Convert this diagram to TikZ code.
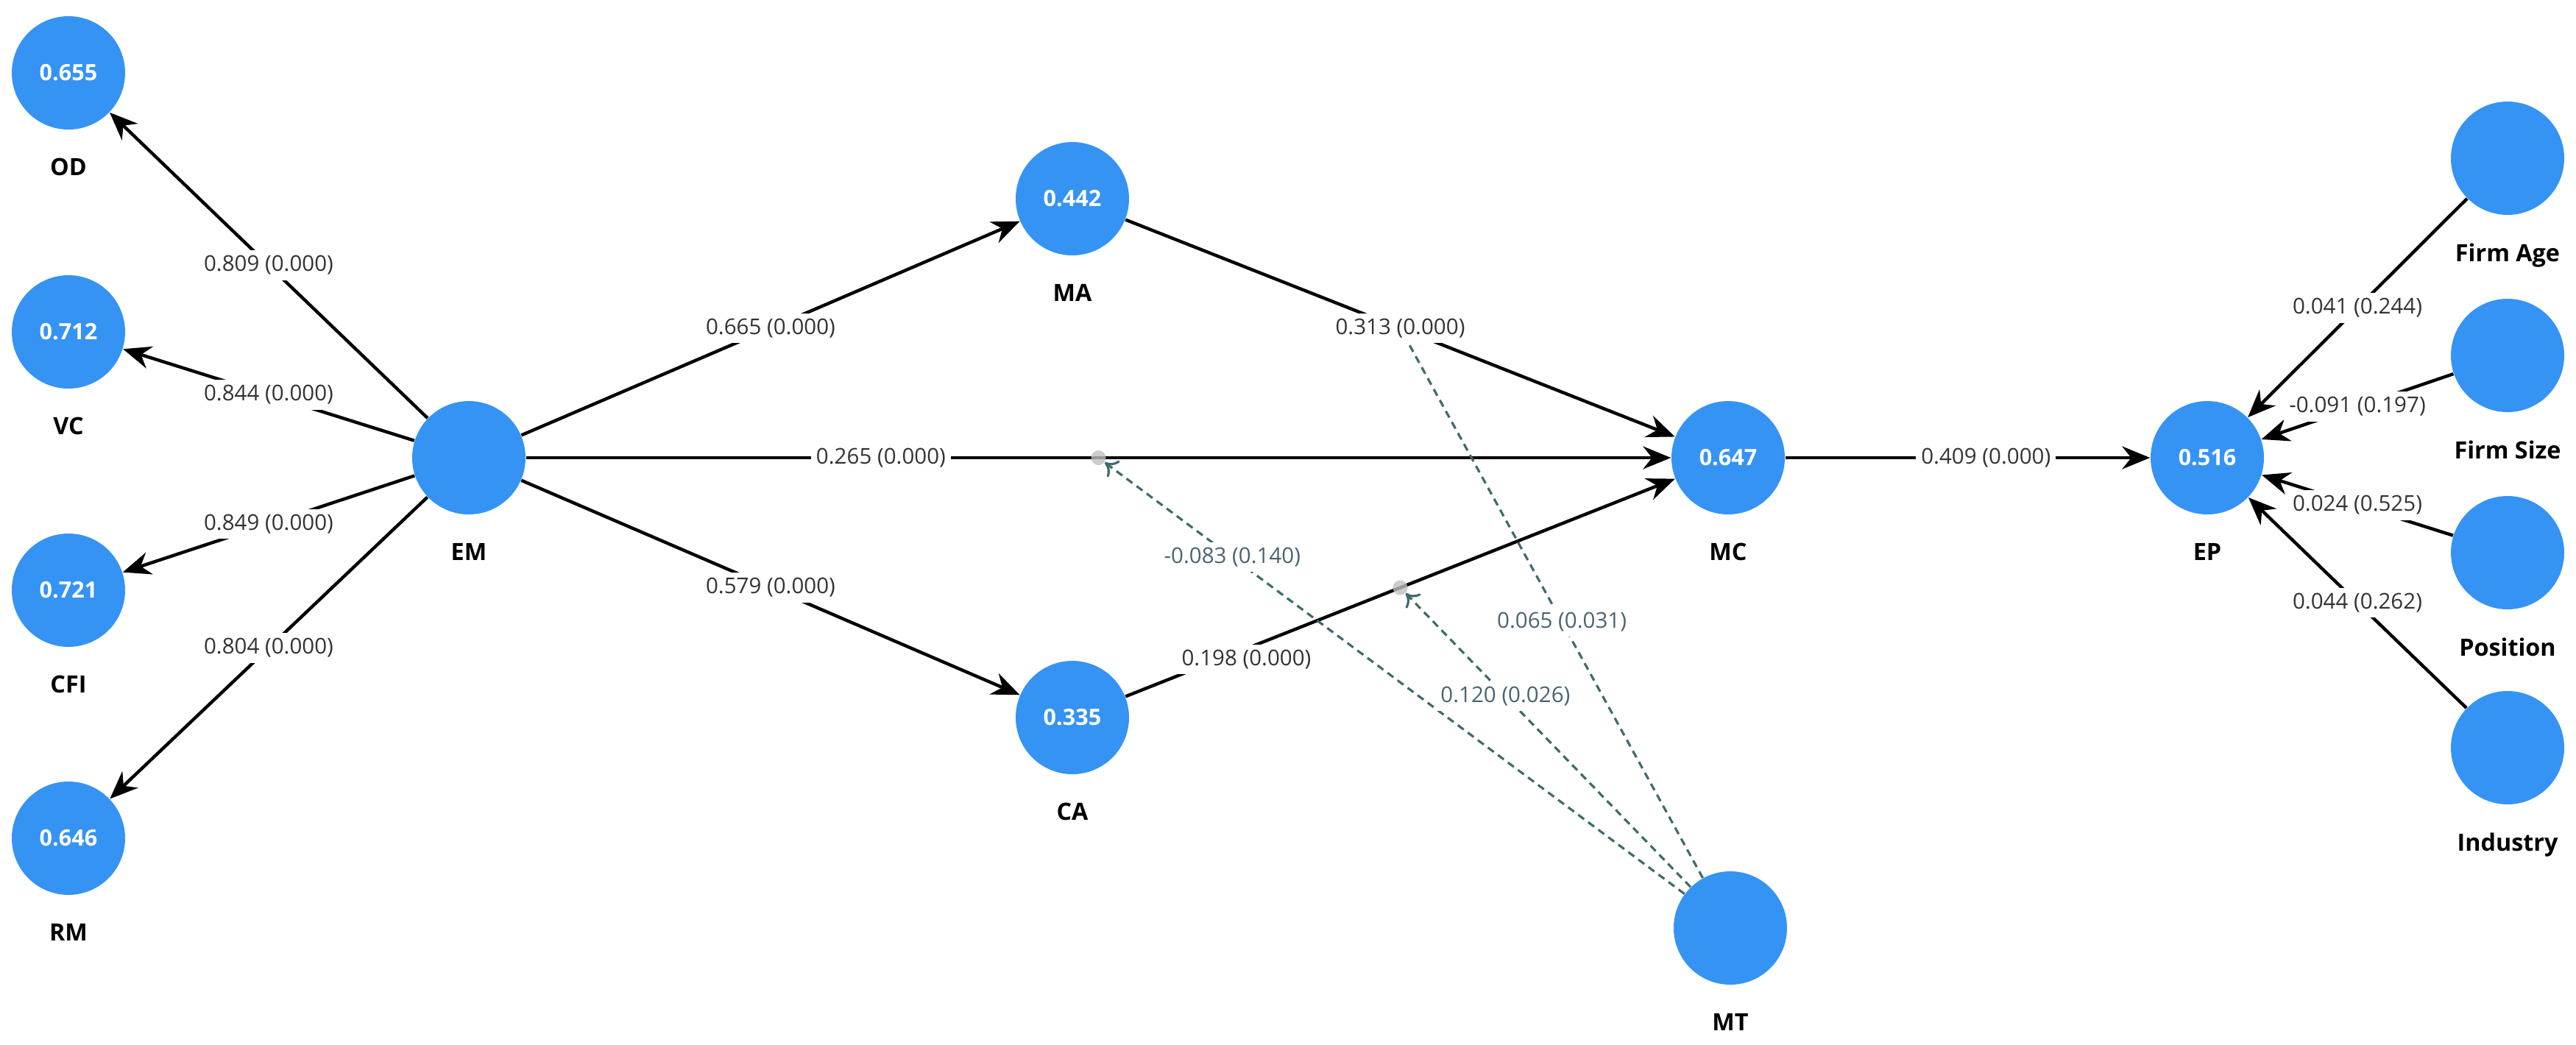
\documentclass[tikz,border=0pt]{standalone}
\usepackage{fontspec}
\setmainfont{Open Sans}
\usetikzlibrary{positioning,arrows.meta,calc}
\definecolor{nodeblue}{HTML}{3593F4}
\definecolor{modteal}{HTML}{3E6B6B}
\definecolor{modtext}{HTML}{4A6470}
\definecolor{coefgray}{HTML}{333333}

\begin{document}
\begin{tikzpicture}[
latent/.style ={circle, fill=nodeblue, minimum size=1.54cm, inner sep=0pt,
  text=white, font=\fontsize{8.7}{10}\selectfont\bfseries
},
varname/.style ={inner sep=0pt, font=\fontsize{9.2}{11}\selectfont\bfseries},
link/.style ={line width=1.25pt, -{Stealth[length=3.8mm,width=3.1mm]}},
modlink/.style ={modteal, line width=0.9pt, dash pattern=on 1mm off 0.7mm,
  -{To[length=1.6mm,width=2.8mm]}
},
coef/.style ={fill=white, inner sep=2pt, text=coefgray,
  font=\fontsize{8.4}{10}\selectfont
},
modcoef/.style ={coef, text=modtext},
hub/.style ={circle, fill=gray!50, opacity=0.8, minimum size=0.2cm, inner sep=0pt}
]
\useasboundingbox (0,0) rectangle (35,-14.19);

% indicators of EM
\node (od) at (0.93,-0.99) [latent] {0.655};
\node (vc) at (0.93,-4.51) [latent] {0.712};
\node (cfi) at (0.93,-8.02) [latent] {0.721};
\node (rm) at (0.93,-11.39) [latent] {0.646};

% structural model
\node (em) at (6.37,-6.22) [latent] {};
\node (ma) at (14.57,-2.70) [latent] {0.442};
\node (ca) at (14.57,-9.75) [latent] {0.335};
\node (mc) at (23.48,-6.22) [latent] {0.647};
\node (mt) at (23.51,-12.61) [latent] {};
\node (ep) at (29.99,-6.22) [latent] {0.516};

% controls
\node (age) at (34.07,-2.15) [latent] {};
\node (size) at (34.07,-4.83) [latent] {};
\node (pos) at (34.07,-7.51) [latent] {};
\node (ind) at (34.07,-10.16) [latent] {};

% names
\node (odN) [varname, below=3.8mm of od] {OD};
\node (vcN) [varname, below=3.8mm of vc] {VC};
\node (cfiN) [varname, below=3.8mm of cfi] {CFI};
\node (rmN) [varname, below=3.8mm of rm] {RM};
\node (emN) [varname, below=3.8mm of em] {EM};
\node (maN) [varname, below=3.8mm of ma] {MA};
\node (caN) [varname, below=3.8mm of ca] {CA};
\node (mcN) [varname, below=3.8mm of mc] {MC};
\node (mtN) [varname, below=3.8mm of mt] {MT};
\node (epN) [varname, below=3.8mm of ep] {EP};
\node (ageN) [varname, below=3.8mm of age] {Firm Age};
\node (sizeN) [varname, below=3.8mm of size] {Firm Size};
\node (posN) [varname, below=3.8mm of pos] {Position};
\node (indN) [varname, below=3.8mm of ind] {Industry};

% loadings
\draw[link] (em) -- (od) node[coef, pos=0.5] {0.809 (0.000)};
\draw[link] (em) -- (vc) node[coef, pos=0.5] {0.844 (0.000)};
\draw[link] (em) -- (cfi) node[coef, pos=0.5] {0.849 (0.000)};
\draw[link] (em) -- (rm) node[coef, pos=0.5] {0.804 (0.000)};

% paths
\draw[link] (em) -- (ma) node[coef, pos=0.5] {0.665 (0.000)};
\draw[link] (em) -- (ca) node[coef, pos=0.5] {0.579 (0.000)};
\draw[link] (em) -- (mc) node[coef, pos=0.31] {0.265 (0.000)};
\draw[link] (ma) -- (mc) node[coef, pos=0.5] (c313) {0.313 (0.000)};
\draw[link] (ca) -- (mc) node[coef, pos=0.22, yshift=-0.15cm] {0.198 (0.000)};
\draw[link] (mc) -- (ep) node[coef, pos=0.55] {0.409 (0.000)};
\draw[link] (age) -- (ep) node[coef, pos=0.5] {0.041 (0.244)};
\draw[link] (size) -- (ep) node[coef, pos=0.5] {-0.091 (0.197)};
\draw[link] (pos) -- (ep) node[coef, pos=0.5] {0.024 (0.525)};
\draw[link] (ind) -- (ep) node[coef, pos=0.5] {0.044 (0.262)};

% moderation
\node (h1) at ($(em)!0.5!(mc)$) [hub] {};
\node (h2) at ($(ca)!0.5!(mc)$) [hub] {};
\draw[modlink] (mt) -- (h1) node[modcoef, pos=0.78] {-0.083 (0.140)};
\draw[modlink] (mt) -- (h2) node[modcoef, pos=0.65] {0.120 (0.026)};
\draw[modlink, -] (mt) -- (c313) node[modcoef, pos=0.48] {0.065 (0.031)};
\end{tikzpicture}
\end{document}
